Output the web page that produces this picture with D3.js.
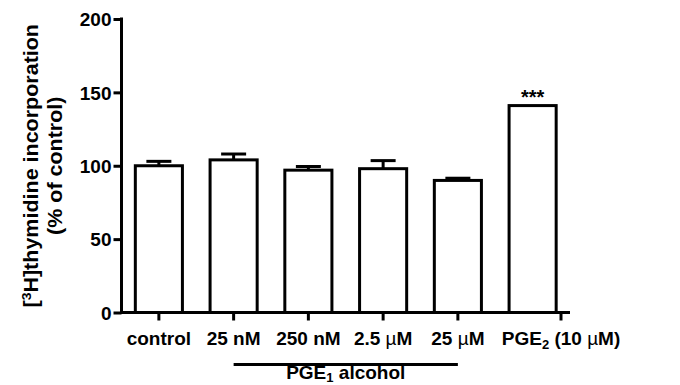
<!DOCTYPE html>
<html>
<head>
<meta charset="utf-8">
<script src="https://cdn.jsdelivr.net/npm/d3@7"></script>
<style>
  html, body { margin: 0; padding: 0; background: #fff; }
  svg { display: block; }
  text { font-family: "Liberation Sans", Arial, Helvetica, sans-serif; font-weight: bold; fill: #000; }
</style>
</head>
<body>
<svg id="chart" width="680" height="385"></svg>
<script>
// Thymidine incorporation, % of control (mean and SEM)
const categories = ["control", "25 nM", "250 nM", "2.5 µM", "25 µM", "PGE2 (10 µM)"];
const means = [100, 104, 97, 98, 90, 141];
const sems = [3, 4, 2.5, 5.5, 1.5, 0];
const significance = ["", "", "", "", "", "***"];
const yTicks = [0, 50, 100, 150, 200];
const groupLabel = "PGE1 alcohol";
const groupMembers = ["25 nM", "250 nM", "2.5 µM", "25 µM"];

const svg = d3.select("#chart");
const plotLeft = 121.5, plotRight = 570, plotTop = 19, plotBottom = 312.5;

const x = d3.scaleBand().domain(categories).range([plotLeft, plotRight])
  .paddingInner(0.37).paddingOuter(0.185);
const y = d3.scaleLinear().domain([0, 200]).range([plotBottom, plotTop]);

const stroke = 3;

// bars
svg.append("g").selectAll("rect").data(categories).join("rect")
  .attr("x", d => x(d))
  .attr("y", (d, i) => y(means[i]))
  .attr("width", x.bandwidth())
  .attr("height", (d, i) => y(0) - y(means[i]))
  .attr("fill", "#fff").attr("stroke", "#000").attr("stroke-width", stroke);

// error bars (upper only)
const capHalf = 12.5;
const eb = svg.append("g").attr("stroke", "#000").attr("stroke-width", stroke).attr("fill", "none");
categories.forEach((c, i) => {
  if (!sems[i]) return;
  const cx = x(c) + x.bandwidth() / 2;
  eb.append("line").attr("x1", cx).attr("x2", cx).attr("y1", y(means[i])).attr("y2", y(means[i] + sems[i]));
  eb.append("line").attr("x1", cx - capHalf).attr("x2", cx + capHalf)
    .attr("y1", y(means[i] + sems[i])).attr("y2", y(means[i] + sems[i]));
});

// significance marks
svg.append("g").selectAll("text").data(categories).join("text")
  .attr("x", d => x(d) + x.bandwidth() / 2)
  .attr("y", (d, i) => y(means[i] + sems[i]) - 2)
  .attr("text-anchor", "middle").attr("font-size", 20)
  .text((d, i) => significance[i]);

// y axis
const yAxis = d3.axisLeft(y).tickValues(yTicks).tickSize(8).tickPadding(2).tickSizeOuter(0);
const gy = svg.append("g").attr("transform", `translate(${plotLeft},0)`).call(yAxis);
gy.select(".domain").attr("stroke-width", stroke).attr("d", `M0,${plotTop - 1.5}V${plotBottom + 1.5}`);
gy.selectAll(".tick line").attr("stroke-width", stroke);
gy.selectAll(".tick text").attr("font-size", 19).attr("dy", "0.36em")
  .style("font-family", '"Liberation Sans", Arial, sans-serif').style("font-weight", "bold");

// x axis: ticks at bar centres; the last one sits out at the axis end
const tickX = (c, i) => i === categories.length - 1 ? plotRight - 9 : x(c) + x.bandwidth() / 2;
const gx = svg.append("g");
gx.append("line").attr("x1", plotLeft - 1.5).attr("x2", plotRight).attr("y1", plotBottom).attr("y2", plotBottom)
  .attr("stroke", "#000").attr("stroke-width", stroke);
gx.selectAll("line.tick").data(categories).join("line").attr("class", "tick")
  .attr("x1", tickX).attr("x2", tickX).attr("y1", plotBottom).attr("y2", plotBottom + 8)
  .attr("stroke", "#000").attr("stroke-width", stroke);

// labels with subscript digits after "E" and a lighter mu glyph
function richLabel(sel, label, subShift) {
  const parts = label.split(/(E2|E1|µ)/).filter(s => s.length);
  let pendingDy = 0;
  const add = (txt, opts = {}) => {
    const t = sel.append("tspan").text(txt);
    const dy = (opts.dy || 0) + pendingDy;
    if (dy) t.attr("dy", dy);
    pendingDy = 0;
    if (opts.size) t.attr("font-size", opts.size);
    if (opts.normal) t.style("font-weight", "normal");
    return t;
  };
  parts.forEach(p => {
    if (p === "E2" || p === "E1") {
      add("E");
      add(p[1], { size: 13, dy: subShift });
      pendingDy = -subShift;
    } else if (p === "µ") {
      add("µ", { normal: true });
    } else {
      add(p);
    }
  });
}
gx.selectAll("text.cat").data(categories).join("text").attr("class", "cat")
  .attr("x", tickX).attr("y", plotBottom + 32).attr("text-anchor", "middle").attr("font-size", 19)
  .each(function (d) { richLabel(d3.select(this), d, 4); });

// group bracket under the PGE1 alcohol concentrations
const gFirst = categories.indexOf(groupMembers[0]);
const gLast = categories.indexOf(groupMembers[groupMembers.length - 1]);
const gx1 = tickX(categories[gFirst], gFirst), gx2 = tickX(categories[gLast], gLast);
svg.append("line").attr("x1", gx1).attr("x2", gx2).attr("y1", 364.5).attr("y2", 364.5)
  .attr("stroke", "#000").attr("stroke-width", stroke);
svg.append("text").attr("x", (gx1 + gx2) / 2).attr("y", 379).attr("text-anchor", "middle")
  .attr("font-size", 19).each(function () { richLabel(d3.select(this), groupLabel, 3); });

// y title, two rotated lines
const yc = (plotTop + plotBottom) / 2;
const t1 = svg.append("text").attr("transform", `translate(38,${yc}) rotate(-90) scale(1,0.9)`)
  .attr("text-anchor", "middle").attr("font-size", 21.5);
t1.append("tspan").text("[");
t1.append("tspan").attr("font-size", 14).attr("dy", -8).text("3");
t1.append("tspan").attr("dy", 8).text("H]thymidine incorporation");
svg.append("text").attr("transform", `translate(62,${yc}) rotate(-90) scale(1,0.9)`)
  .attr("text-anchor", "middle").attr("font-size", 21.5).text("(% of control)");
</script>
</body>
</html>
